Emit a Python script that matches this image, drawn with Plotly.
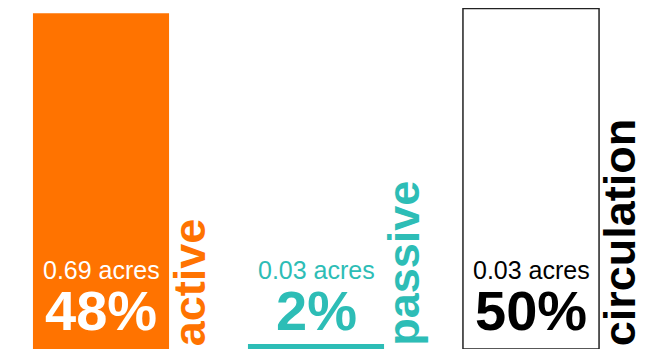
import plotly.graph_objects as go

# categories and values
categories = ["active", "passive", "circulation"]
bar_heights = [49.3, 0.73, 50.0]
acres_labels = ["0.69 acres", "0.03 acres", "0.03 acres"]
pct_labels = ["48%", "2%", "50%"]

fill_colors = ["#FF7300", "#2DBDB6", "#FFFFFF"]
line_colors = ["#FF7300", "#2DBDB6", "#222222"]
inner_text_colors = ["#FFFFFF", "#2DBDB6", "#000000"]
word_colors = ["#FF7300", "#2DBDB6", "#000000"]

x = list(range(len(categories)))

fig = go.Figure()
fig.add_trace(go.Bar(
    x=x, y=bar_heights, width=0.633,
    marker=dict(color=fill_colors, line=dict(color=line_colors, width=[0, 0, 1.5])),
    hoverinfo="skip",
))

# text inside / above the bars
for i in x:
    fig.add_annotation(x=i, y=11.6, text=acres_labels[i], showarrow=False,
                       font=dict(family="Liberation Sans, Arial", size=25, color=inner_text_colors[i]),
                       xanchor="center", yanchor="middle")
    fig.add_annotation(x=i, y=5.6, text="<b>" + pct_labels[i] + "</b>", showarrow=False,
                       font=dict(family="Liberation Sans, Arial", size=56, color=inner_text_colors[i]),
                       xanchor="center", yanchor="middle")
    # rotated category word right of each bar
    fig.add_annotation(x=i, y=0.1, text="<b>" + categories[i] + "</b>", showarrow=False,
                       textangle=-90, xshift=88,
                       font=dict(family="Liberation Sans, Arial", size=45, color=word_colors[i]),
                       xanchor="center", yanchor="bottom")

# page body has an 8px margin, so the figure is sized for the rest of the window
fig.update_layout(
    width=654, height=347,
    margin=dict(l=0, r=0, t=0, b=6),
    plot_bgcolor="white", paper_bgcolor="white",
    showlegend=False,
    xaxis=dict(range=[-0.4326, 2.6093], visible=False, fixedrange=True),
    yaxis=dict(range=[0, 50.07], visible=False, fixedrange=True),
)

fig.write_html("out.html")
